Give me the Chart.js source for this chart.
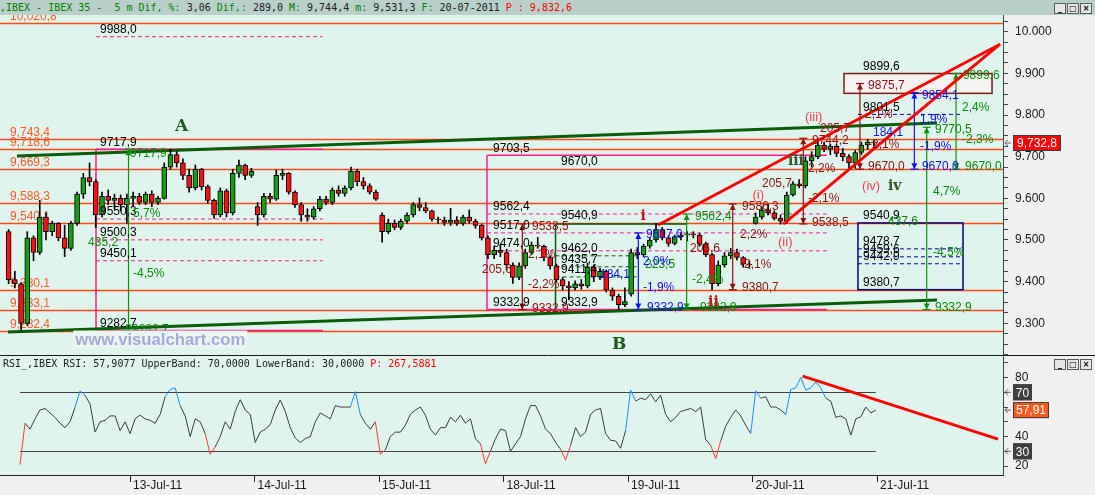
<!DOCTYPE html>
<html>
<head>
<meta charset="utf-8">
<title>IBEX 35 - 5 m</title>
<script src="https://cdn.jsdelivr.net/npm/chart.js@4.4.1/dist/chart.umd.min.js"></script>
<style>
  html, body { margin: 0; padding: 0; }
  body { width: 1095px; height: 495px; overflow: hidden; background: #f0f0f0; position: relative; }
  #titlebar { position: absolute; left: 0; top: 0; width: 1095px; height: 15px; background: #b9cfc9;
              font: 10px "DejaVu Sans Mono", monospace; line-height: 15px; white-space: pre; color: #202020; }
  #titlebar .g { color: #008000; }
  #titlebar .r { color: #ff0000; }
  .btns { position: absolute; right: 3px; display: flex; gap: 1px; z-index: 2; }
  .btns span { display: block; width: 10px; height: 9px; background: #e6e6e6; border: 1px solid #5a5a5a;
               font: bold 8px/9px "DejaVu Sans", sans-serif; text-align: center; color: #000; }
  #main { position: absolute; left: 0; top: 15px; }
  #rsi { position: absolute; left: 0; top: 356px; }
</style>
</head>
<body>
<div id="titlebar"><span class="g">,IBEX - IBEX 35 -  5 m Dif, %: </span>3,06 <span class="g">Dif,: </span>289,0 <span class="g">M: </span>9,744,4 <span class="g">m: </span>9,531,3 <span class="g">F: </span>20-07-2011 <span class="r">P : 9,832,6</span></div>
<div class="btns" style="top:3px"><span>_</span><span>□</span><span>×</span></div>
<canvas id="main" width="1095" height="341"></canvas>
<canvas id="rsi" width="1095" height="139"></canvas>
<div class="btns" style="top:359px"><span>_</span><span>□</span><span>×</span></div>

<script>
// --- Data: IBEX 35, 5 minute chart, sampled as 20 candles per session ---
const sessions = ['12-Jul-11', '13-Jul-11', '14-Jul-11', '15-Jul-11', '18-Jul-11', '19-Jul-11', '20-Jul-11', '21-Jul-11'];
const barsPerSession = 20;

const opens = [
  9520, 9405, 9395, 9300, 9505, 9470, 9555, 9520, 9540, 9505, 9480, 9540, 9610, 9650, 9640, 9560, 9605, 9595, 9600, 9585,
  9600, 9605, 9590, 9610, 9590, 9600, 9675, 9705, 9685, 9655, 9625, 9670, 9628, 9595, 9560, 9618, 9565, 9660, 9680, 9655,
  9580, 9560, 9605, 9598, 9655, 9660, 9615, 9585, 9560, 9555, 9575, 9598, 9590, 9620, 9612, 9625, 9665, 9640, 9630, 9615,
  9560, 9520, 9540, 9530, 9545, 9560, 9585, 9578, 9570, 9550, 9548, 9542, 9548, 9540, 9555, 9545, 9535, 9505, 9465, 9475,
  9470, 9440, 9410, 9438, 9470, 9488, 9485, 9458, 9438, 9405, 9390, 9385, 9395, 9390, 9435, 9412, 9425, 9380, 9365, 9345,
  9370, 9470, 9465, 9485, 9500, 9525, 9505, 9492, 9508, 9512, 9515, 9512, 9490, 9465, 9395, 9440, 9462, 9470, 9458, 9442,
  9540, 9555, 9572, 9565, 9552, 9545, 9608, 9635, 9630, 9690, 9700, 9728, 9718, 9725, 9708, 9700, 9685, 9710, 9728, 9735
];
const highs = [
  9525, 9425, 9398, 9520, 9510, 9595, 9565, 9545, 9542, 9535, 9545, 9615, 9660, 9685, 9645, 9615, 9620, 9610, 9608, 9610,
  9615, 9612, 9615, 9618, 9605, 9685, 9718, 9712, 9695, 9670, 9680, 9672, 9632, 9598, 9625, 9622, 9670, 9692, 9682, 9672,
  9590, 9612, 9612, 9668, 9670, 9662, 9618, 9590, 9575, 9580, 9605, 9605, 9625, 9630, 9630, 9675, 9670, 9650, 9635, 9620,
  9565, 9550, 9548, 9550, 9565, 9590, 9601, 9590, 9572, 9555, 9555, 9576, 9556, 9560, 9572, 9550, 9538, 9510, 9485, 9490,
  9478, 9445, 9445, 9478, 9495, 9506, 9488, 9462, 9442, 9410, 9400, 9402, 9405, 9445, 9440, 9432, 9428, 9385, 9370, 9385,
  9478, 9482, 9490, 9505, 9540, 9530, 9510, 9512, 9518, 9520, 9520, 9516, 9495, 9468, 9450, 9470, 9480, 9478, 9460, 9450,
  9565, 9580, 9586, 9570, 9560, 9615, 9640, 9645, 9700, 9712, 9744, 9735, 9730, 9730, 9720, 9705, 9715, 9735, 9742, 9740
];
const lows = [
  9395, 9385, 9284, 9295, 9450, 9465, 9500, 9510, 9498, 9460, 9475, 9535, 9600, 9630, 9530, 9555, 9585, 9575, 9570, 9540,
  9580, 9585, 9585, 9580, 9585, 9598, 9670, 9675, 9645, 9615, 9620, 9620, 9588, 9552, 9555, 9555, 9560, 9650, 9645, 9650,
  9535, 9555, 9590, 9595, 9645, 9610, 9578, 9545, 9545, 9550, 9570, 9585, 9585, 9605, 9605, 9620, 9630, 9622, 9610, 9595,
  9495, 9515, 9525, 9525, 9540, 9555, 9570, 9565, 9545, 9540, 9535, 9535, 9535, 9535, 9540, 9528, 9500, 9455, 9455, 9460,
  9428, 9396, 9405, 9432, 9465, 9480, 9450, 9430, 9400, 9380, 9356, 9380, 9382, 9385, 9400, 9405, 9375, 9355, 9333, 9340,
  9365, 9455, 9460, 9480, 9495, 9500, 9485, 9488, 9500, 9498, 9505, 9485, 9460, 9381, 9390, 9435, 9455, 9452, 9435, 9432,
  9538, 9550, 9560, 9548, 9538, 9540, 9605, 9625, 9625, 9675, 9695, 9712, 9705, 9700, 9690, 9670, 9672, 9705, 9718, 9725
];
const closes = [
  9405, 9395, 9300, 9505, 9470, 9555, 9520, 9540, 9505, 9480, 9540, 9610, 9650, 9640, 9560, 9605, 9595, 9600, 9585, 9600,
  9605, 9590, 9610, 9590, 9600, 9675, 9705, 9685, 9655, 9625, 9670, 9628, 9595, 9560, 9618, 9565, 9660, 9680, 9655, 9665,
  9560, 9605, 9598, 9655, 9660, 9615, 9585, 9560, 9555, 9575, 9598, 9590, 9620, 9612, 9625, 9665, 9640, 9630, 9615, 9598,
  9520, 9540, 9530, 9545, 9560, 9585, 9578, 9570, 9550, 9548, 9542, 9548, 9540, 9555, 9545, 9535, 9505, 9465, 9475, 9470,
  9440, 9410, 9438, 9470, 9488, 9485, 9458, 9438, 9405, 9390, 9385, 9395, 9390, 9435, 9412, 9425, 9380, 9365, 9345, 9352,
  9470, 9465, 9485, 9500, 9525, 9505, 9492, 9508, 9512, 9515, 9512, 9490, 9465, 9395, 9440, 9462, 9470, 9458, 9442, 9440,
  9555, 9572, 9565, 9552, 9545, 9608, 9635, 9630, 9690, 9700, 9728, 9718, 9725, 9708, 9700, 9685, 9710, 9728, 9735, 9732.8
];

// RSI(14), read every few bars, starting a little after the first candle
const rsiStart = 0.1165;   // in sessions
const rsiStep = 0.0402;
const rsiValues = [
  21, 49, 45, 52, 58, 59, 56, 53, 49, 46, 50, 60, 71, 68, 62, 43, 50, 51, 54, 54,
  44, 50, 42, 52, 54.5, 52, 51, 49, 55, 67, 72, 73, 61, 54, 40, 52, 50, 42, 28, 33,
  40, 50, 45, 57, 65, 58, 55, 36, 43, 45, 48, 58, 64.8, 57, 46, 39, 36, 38.6, 40, 50,
  56, 54, 52, 61, 60, 60, 60, 70.5, 55, 49, 45, 50, 28, 31, 40, 43, 43, 47.7, 55, 58,
  60, 54.5, 45, 41, 46, 46, 53, 50, 54.5, 49, 52, 38.6, 35, 21.6, 30, 38.6, 45, 44, 30, 35,
  40, 52, 61, 61, 54, 45, 42, 36, 31.5, 24, 34, 46, 40, 43, 55, 58, 59, 42, 37.5, 37,
  32, 44, 71.6, 64, 66, 65, 69, 63.6, 68, 55, 50, 53, 57, 58, 59, 57, 60, 38, 34, 25,
  37, 47, 53, 58, 54, 47.7, 42, 71, 66, 67, 60, 60, 58, 55, 72, 73, 80, 71.6, 73, 77,
  73, 66, 64, 53, 54, 52, 41, 52, 53.4, 60, 56, 57.9
];
const rsiBands = [70, 30];
const rsiLast = 57.91;

// support / resistance levels (orange)
const levels = [10020.8, 9743.4, 9718.6, 9669.3, 9588.3, 9540.1, 9380.1, 9333.1, 9282.4];

// retracement boxes: [fromSession, toSession, low, high]
const pinkBoxes = [[0.727, 2.550, 9282.7, 9717.9], [3.867, 6.598, 9332.9, 9703.5]];
const greenFrame = [4.418, 5.471, 9332.9, 9538.5];
const blueFrame = [6.847, 7.691, 9380.7, 9540.9];
const targetFrame = [6.735, 7.924, 9852.0, 9899.6];

// dashed levels: [level, fromSession, toSession]
const pinkDashes = [[9988.0, 0.727, 2.550], [9550.3, 0.727, 2.550], [9500.3, 0.727, 2.550], [9450.1, 0.727, 2.550],
                    [9562.4, 3.867, 6.598], [9517.0, 3.867, 6.598], [9474.0, 3.867, 6.598]];
const greenDashes = [[9462.0, 4.418, 5.072], [9435.7, 4.418, 5.072], [9411.4, 4.418, 5.072]];
const blueDashes = [[9899.6, 6.735, 7.667], [9801.5, 6.847, 7.691], [9478.7, 6.847, 7.691],
                    [9459.6, 6.847, 7.691], [9442.9, 6.847, 7.691]];

// measuring arrows: [session, from, to]
const greenArrows = [[0.988, 9282.7, 9717.9], [5.471, 9332.9, 9562.4], [7.399, 9332.9, 9770.5], [7.635, 9670.0, 9899.6]];
const blueArrows = [[5.083, 9332.9, 9517.0], [7.300, 9670.0, 9854.1]];
const redArrows = [[4.151, 9332.9, 9538.5], [5.841, 9380.7, 9586.3], [6.408, 9538.5, 9744.2], [6.863, 9670.0, 9875.7]];

// trend lines: [[session, price], [session, price]]
const channelTop = [[0.092, 9701.6], [7.482, 9780.8]];
const channelBottom = [[0.020, 9279.1], [7.482, 9355.9]];
const wedgeUpper = [[5.241, 9536.0], [7.988, 9970.0]];
const wedgeLower = [[6.247, 9538.0], [7.988, 9970.0]];
const rsiTrend = [[6.403, 81.0], [7.972, 38.3]];

// level tags written just above their level: [text, session, level]
const levelTags = [
  ['9988,0', 0.759, 9988.0], ['9717,9', 0.759, 9717.9], ['9550,3', 0.759, 9550.3], ['9500,3', 0.759, 9500.3],
  ['9450,1', 0.759, 9450.1], ['9282,7', 0.759, 9282.7],
  ['9703,5', 3.916, 9703.5], ['9670,0', 4.462, 9670.0], ['9562,4', 3.916, 9562.4], ['9540,9', 4.462, 9540.9],
  ['9517,0', 3.916, 9517.0], ['9474,0', 3.916, 9474.0], ['9462,0', 4.462, 9462.0], ['9435,7', 4.462, 9435.7],
  ['9411,4', 4.462, 9411.4], ['9332,9', 3.916, 9332.9], ['9332,9', 4.462, 9332.9],
  ['9899,6', 6.888, 9899.6], ['9801,5', 6.888, 9801.5], ['9540,9', 6.888, 9540.9], ['9478,7', 6.888, 9478.7],
  ['9459,6', 6.888, 9459.6], ['9442,9', 6.888, 9442.9], ['9380,7', 6.888, 9380.7]
];
// measurement tags centred on a price: [text, session, price]
const greenTags = [
  ['9717,9', 1.0, 9706], ['9282,7', 1.016, 9284], ['5,7%', 1.024, 9564], ['435,2', 0.663, 9493], ['-4,5%', 1.024, 9418],
  ['9562,4', 5.538, 9556], ['223,5', 5.137, 9440], ['-2,4%', 5.514, 9404], ['9332,9', 5.578, 9337],
  ['9770,5', 7.466, 9764], ['4,7%', 7.45, 9616], ['437,6', 7.088, 9544], ['-4,5%', 7.45, 9470], ['9332,9', 7.466, 9337],
  ['9899,6', 7.69, 9894], ['2,4%', 7.683, 9817], ['-2,3%', 7.683, 9740], ['9670,0', 7.707, 9676]
];
const blueTags = [
  ['9517,0', 5.145, 9512], ['2,0%', 5.12, 9447], ['184,1', 4.775, 9416], ['-1,9%', 5.12, 9385], ['9332,9', 5.153, 9337],
  ['9854,1', 7.361, 9846], ['1,9%', 7.345, 9788], ['184,1', 6.968, 9757], ['-1,9%', 7.345, 9723], ['9670,0', 7.361, 9676]
];
const redTags = [
  ['9538,5', 4.229, 9532], ['205,6', 3.827, 9428], ['2,1%', 4.197, 9464], ['-2,2%', 4.197, 9392], ['9332,9', 4.229, 9336],
  ['9586,3', 5.916, 9580], ['2,2%', 5.9, 9512], ['-2,1%', 5.9, 9440], ['9380,7', 5.916, 9385], ['205,6', 5.498, 9478],
  ['9744,2', 6.478, 9738], ['205,7', 6.076, 9634], ['205,7', 6.542, 9766], ['2,2%', 6.446, 9670], ['-2,1%', 6.446, 9600],
  ['9538,5', 6.478, 9541], ['9875,7', 6.928, 9870], ['2,1%', 6.904, 9800], ['-2,1%', 6.928, 9728], ['9670,0', 6.928, 9676]
];
// Elliott wave marks: [text, session, price]
const bigWaves = [['A', 1.361, 9772], ['B', 4.871, 9248]];
const romanWaves = [['iii', 6.285, 9688], ['iv', 7.088, 9628]];
const redWaves = [['i', 5.1, 9556], ['ii', 5.643, 9351]];
const minorWaves = [['(i)', 6.0, 9608], ['(ii)', 6.205, 9493], ['(iii)', 6.422, 9795], ['(iv)', 6.88, 9628]];

// --- Helpers ---
const PANEL = '#e0f4ee';
const X_MIN = -0.0442, X_MAX = 8.012;
Chart.defaults.font.family = '"Liberation Sans", Arial, sans-serif';

function fmtLevel(v) {
  const [i, f] = v.toFixed(1).split('.');
  return i.replace(/\B(?=(\d{3})+(?!\d))/g, ',') + ',' + f;
}
function fmtAxis(v) {
  return Math.floor(v / 1000) + '.' + String(Math.round(v % 1000)).padStart(3, '0');
}
function seg(ctx, x1, y1, x2, y2) {
  ctx.beginPath(); ctx.moveTo(x1, y1); ctx.lineTo(x2, y2); ctx.stroke();
}
function measure(ctx, x, ya, yb, col) {
  ctx.strokeStyle = col; ctx.fillStyle = col; ctx.lineWidth = 1.2;
  seg(ctx, x, ya, x, yb);
  [[ya, yb], [yb, ya]].forEach(([y, other]) => {
    const s = Math.sign(other - y);
    seg(ctx, x - 4, y, x + 4, y);
    ctx.beginPath(); ctx.moveTo(x, y); ctx.lineTo(x - 3, y + s * 6); ctx.lineTo(x + 3, y + s * 6); ctx.closePath(); ctx.fill();
  });
}
function paintBackground(c) {
  const { ctx, chartArea: a } = c;
  ctx.save();
  ctx.fillStyle = '#f0f0f0'; ctx.fillRect(0, 0, c.width, c.height);
  ctx.fillStyle = PANEL; ctx.fillRect(a.left, a.top, a.right - a.left, a.bottom - a.top);
  ctx.restore();
}
function clipTo(ctx, a) {
  ctx.beginPath(); ctx.rect(a.left, a.top, a.right - a.left, a.bottom - a.top); ctx.clip();
}
function tagBox(ctx, x, y, w, text, fill) {
  ctx.fillStyle = fill; ctx.fillRect(x, y - 8, w, 16);
  ctx.strokeStyle = '#3c3c3c'; ctx.lineWidth = 1; ctx.strokeRect(x + 0.5, y - 7.5, w - 1, 15);
  ctx.fillStyle = '#ffffff'; ctx.font = '12px "Liberation Sans"'; ctx.textAlign = 'center'; ctx.textBaseline = 'middle';
  ctx.fillText(text, x + w / 2, y + 1);
  ctx.strokeStyle = '#606060';
  seg(ctx, 1005, y, 1011, y); seg(ctx, 1005, y, 1008, y - 3); seg(ctx, 1005, y, 1008, y + 3);
  ctx.textAlign = 'left';
}
// keep the plot flush with the panel edges
function flushAxis(width) {
  return s => { s.width = width; s.paddingTop = 0; s.paddingBottom = 0; };
}

// --- Candles ---
const candleX = i => Math.floor(i / barsPerSession) + (i % barsPerSession + 0.5) / barsPerSession;
const wickData = highs.map((h, i) => ({ x: candleX(i), y: [lows[i], h] }));
const bodyData = opens.map((o, i) => ({ x: candleX(i), y: [Math.min(o, closes[i]), Math.max(o, closes[i])] }));
const bodyColours = opens.map((o, i) => closes[i] >= o ? '#12a012' : '#ff1010');

const pricePaint = {
  id: 'pricePaint',
  beforeDraw: paintBackground,
  beforeDatasetsDraw(c) {
    const { ctx, chartArea: a } = c;
    const X = d => c.scales.x.getPixelForValue(d), Y = v => c.scales.y.getPixelForValue(v);
    ctx.save(); clipTo(ctx, a);

    // orange levels with their labels on the left
    ctx.font = '12px "Liberation Sans"'; ctx.textBaseline = 'middle';
    levels.forEach(v => {
      const y = Math.round(Y(v)) + 0.5;
      ctx.strokeStyle = '#ff4a14'; ctx.lineWidth = 1.5; seg(ctx, a.left, y, a.right, y);
      ctx.fillStyle = '#ff5a22'; ctx.fillText(fmtLevel(v), 10, y - 7);
    });

    // retracement boxes
    ctx.lineWidth = 1.5; ctx.strokeStyle = '#ff1a8c';
    pinkBoxes.forEach(([d0, d1, lo, hi]) => {
      seg(ctx, X(d0), Y(lo), X(d0), Y(hi)); seg(ctx, X(d0), Y(hi), X(d1), Y(hi)); seg(ctx, X(d0), Y(lo), X(d1), Y(lo));
    });
    ctx.strokeStyle = '#0b5a0b';
    seg(ctx, X(greenFrame[0]), Y(greenFrame[2]), X(greenFrame[0]), Y(greenFrame[3]));
    seg(ctx, X(greenFrame[0]), Y(greenFrame[3]), X(greenFrame[1]), Y(greenFrame[3]));

    ctx.lineWidth = 1; ctx.setLineDash([4, 3]);
    [[pinkDashes, '#ff1a8c'], [greenDashes, '#0b5a0b'], [blueDashes, '#0000b0']].forEach(([list, col]) => {
      ctx.strokeStyle = col;
      list.forEach(([v, d0, d1]) => seg(ctx, X(d0), Y(v), X(d1), Y(v)));
    });
    ctx.setLineDash([]);

    // long-term channel
    ctx.strokeStyle = '#0a5c0a'; ctx.lineWidth = 3;
    [channelTop, channelBottom].forEach(([p, q]) => seg(ctx, X(p[0]), Y(p[1]), X(q[0]), Y(q[1])));
    ctx.restore();
  },
  afterDatasetsDraw(c) {
    const { ctx, chartArea: a } = c;
    const X = d => c.scales.x.getPixelForValue(d), Y = v => c.scales.y.getPixelForValue(v);
    ctx.save(); clipTo(ctx, a);

    // target zone and blue projection box
    const [t0, t1, tlo, thi] = targetFrame;
    ctx.fillStyle = 'rgba(248,242,242,0.85)'; ctx.fillRect(X(t0), Y(thi), X(t1) - X(t0), Y(tlo) - Y(thi));
    ctx.strokeStyle = '#7c1818'; ctx.lineWidth = 1.5; ctx.strokeRect(X(t0), Y(thi), X(t1) - X(t0), Y(tlo) - Y(thi));
    const [b0, b1, blo, bhi] = blueFrame;
    ctx.strokeStyle = '#00007a'; ctx.strokeRect(X(b0), Y(bhi), X(b1) - X(b0), Y(blo) - Y(bhi));

    // measuring arrows
    greenArrows.forEach(([d, p, q]) => measure(ctx, X(d), Y(p), Y(q), '#109010'));
    blueArrows.forEach(([d, p, q]) => measure(ctx, X(d), Y(p), Y(q), '#1010ff'));
    redArrows.forEach(([d, p, q]) => measure(ctx, X(d), Y(p), Y(q), '#8e1010'));

    // wedge
    ctx.strokeStyle = '#ff0000'; ctx.lineWidth = 3;
    [wedgeUpper, wedgeLower].forEach(([p, q]) => seg(ctx, X(p[0]), Y(p[1]), X(q[0]), Y(q[1])));

    // tags
    ctx.font = '12px "Liberation Sans"'; ctx.textBaseline = 'middle'; ctx.textAlign = 'left';
    ctx.fillStyle = '#000000'; levelTags.forEach(([t, d, v]) => ctx.fillText(t, X(d), Y(v) - 7));
    ctx.fillStyle = '#0a8a0a'; greenTags.forEach(([t, d, v]) => ctx.fillText(t, X(d), Y(v)));
    ctx.fillStyle = '#1010ff'; blueTags.forEach(([t, d, v]) => ctx.fillText(t, X(d), Y(v)));
    ctx.fillStyle = '#8e1010'; redTags.forEach(([t, d, v]) => ctx.fillText(t, X(d), Y(v)));

    // wave labels
    ctx.font = 'bold 17px "DejaVu Serif"'; ctx.fillStyle = '#1c5a1c';
    bigWaves.forEach(([t, d, v]) => ctx.fillText(t, X(d), Y(v)));
    ctx.font = 'bold 14px "DejaVu Serif"'; ctx.fillStyle = '#2f5a2a';
    romanWaves.forEach(([t, d, v]) => ctx.fillText(t, X(d), Y(v)));
    ctx.fillStyle = '#c81414';
    redWaves.forEach(([t, d, v]) => ctx.fillText(t, X(d), Y(v)));
    ctx.font = '13px "Liberation Sans"'; ctx.fillStyle = '#ff3a50';
    minorWaves.forEach(([t, d, v]) => ctx.fillText(t, X(d), Y(v)));

    // watermark
    ctx.fillStyle = '#eaf5f2'; ctx.fillRect(X(0.56) - 2, Y(9261) - 9, 174, 18);
    ctx.font = 'bold 17px "Liberation Sans"'; ctx.fillStyle = '#a6a9d8';
    ctx.fillText('www.visualchart.com', X(0.56), Y(9261) + 1, 170);
    ctx.restore();
  },
  afterDraw(c) {
    const { ctx } = c;
    ctx.save();
    tagBox(ctx, 1013, c.scales.y.getPixelForValue(closes[closes.length - 1]), 48, fmtLevel(closes[closes.length - 1]), '#ff0000');
    ctx.strokeStyle = '#1a1a1a'; ctx.lineWidth = 1;
    seg(ctx, 0, c.height - 0.5, c.width, c.height - 0.5);
    ctx.restore();
  }
};

new Chart(document.getElementById('main'), {
  type: 'bar',
  data: {
    datasets: [
      { data: wickData, backgroundColor: '#000000', borderWidth: 0, barThickness: 1, grouped: false, order: 2 },
      { data: bodyData, backgroundColor: bodyColours, borderColor: '#000000', borderWidth: 1, borderSkipped: false,
        barThickness: 5, grouped: false, order: 1 }
    ]
  },
  options: {
    responsive: false, animation: false, devicePixelRatio: 1, events: [],
    layout: { padding: { left: 0, right: 0, top: 0, bottom: 1 } },
    plugins: { legend: { display: false }, tooltip: { enabled: false } },
    scales: {
      x: { type: 'linear', min: X_MIN, max: X_MAX, offset: false, display: false },
      y: {
        position: 'right', min: 9223.9, max: 10040.1,
        afterFit: flushAxis(92),
        grid: { drawOnChartArea: false, tickLength: 5, color: '#3a4a48' },
        border: { color: '#3a4a48' },
        ticks: { stepSize: 25, maxTicksLimit: 100, includeBounds: false, autoSkip: false, padding: 7,
                 color: '#1a1a1a', font: { size: 12 },
                 callback: v => v % 100 === 0 ? fmtAxis(v) : '' }
      }
    }
  },
  plugins: [pricePaint]
});

// --- RSI panel ---
const rsiData = rsiValues.map((v, i) => ({ x: rsiStart + i * rsiStep, y: v }));
const rsiEnd = rsiStart + (rsiValues.length - 1) * rsiStep;

const rsiPaint = {
  id: 'rsiPaint',
  beforeDraw: paintBackground,
  beforeDatasetsDraw(c) {
    const { ctx } = c;
    const X = d => c.scales.x.getPixelForValue(d), Y = v => c.scales.y.getPixelForValue(v);
    ctx.save();
    ctx.strokeStyle = '#404040'; ctx.lineWidth = 1;
    rsiBands.forEach(v => seg(ctx, X(rsiStart), Math.round(Y(v)) + 0.5, X(rsiEnd), Math.round(Y(v)) + 0.5));
    ctx.restore();
  },
  afterDatasetsDraw(c) {
    const { ctx, chartArea: a } = c;
    const X = d => c.scales.x.getPixelForValue(d), Y = v => c.scales.y.getPixelForValue(v);
    ctx.save(); clipTo(ctx, a);
    ctx.strokeStyle = '#ff0000'; ctx.lineWidth = 3;
    seg(ctx, X(rsiTrend[0][0]), Y(rsiTrend[0][1]), X(rsiTrend[1][0]), Y(rsiTrend[1][1]));
    ctx.font = '10px "DejaVu Sans Mono"'; ctx.textBaseline = 'middle';
    const head = 'RSI_,IBEX RSI: 57,9077 UpperBand: 70,0000 LowerBand: 30,0000 ';
    ctx.fillStyle = '#202020'; ctx.fillText(head, 3, 8);
    ctx.fillStyle = '#ff0000'; ctx.fillText('P: 267,5881', 3 + ctx.measureText(head).width, 8);
    ctx.restore();
  },
  afterDraw(c) {
    const { ctx } = c;
    const Y = v => c.scales.y.getPixelForValue(v);
    ctx.save();
    rsiBands.forEach(v => tagBox(ctx, 1013, Y(v), 19, String(v), '#404040'));
    tagBox(ctx, 1013, Y(rsiLast), 36, rsiLast.toFixed(2).replace('.', ','), '#ff5a1e');
    ctx.restore();
  }
};

new Chart(document.getElementById('rsi'), {
  type: 'line',
  data: {
    datasets: [{
      data: rsiData, borderColor: '#3c3c3c', borderWidth: 1, pointRadius: 0, tension: 0,
      segment: {
        borderColor: s => Math.max(s.p0.parsed.y, s.p1.parsed.y) > 70 ? '#1a8cff'
                        : Math.min(s.p0.parsed.y, s.p1.parsed.y) < 30 ? '#ff3838' : undefined
      }
    }]
  },
  options: {
    responsive: false, animation: false, devicePixelRatio: 1, events: [],
    layout: { padding: 0 },
    plugins: { legend: { display: false }, tooltip: { enabled: false } },
    scales: {
      x: {
        type: 'linear', min: X_MIN, max: X_MAX, offset: false, position: 'bottom',
        afterFit: s => { s.height = 20; s.paddingLeft = 0; s.paddingRight = 0; },
        afterBuildTicks: s => { s.ticks = s.ticks.filter(t => t.value >= 1 && t.value <= 7); },
        grid: { drawOnChartArea: false, tickLength: 7, color: '#202020' },
        border: { color: '#202020' },
        ticks: { stepSize: 1, autoSkip: false, maxRotation: 0, align: 'start', labelOffset: 3, padding: -4,
                 color: '#1a1a1a', font: { size: 12 }, callback: v => sessions[v] }
      },
      y: {
        position: 'right', min: 13.93, max: 94.61,
        afterFit: flushAxis(92),
        grid: { drawOnChartArea: false, tickLength: 5, color: '#3a4a48' },
        border: { color: '#3a4a48' },
        ticks: { stepSize: 10, includeBounds: false, autoSkip: false, padding: 7, color: '#1a1a1a', font: { size: 12 },
                 callback: v => (v === 20 || v === 40 || v === 80) ? String(v) : '' }
      }
    }
  },
  plugins: [rsiPaint]
});
</script>
</body>
</html>
